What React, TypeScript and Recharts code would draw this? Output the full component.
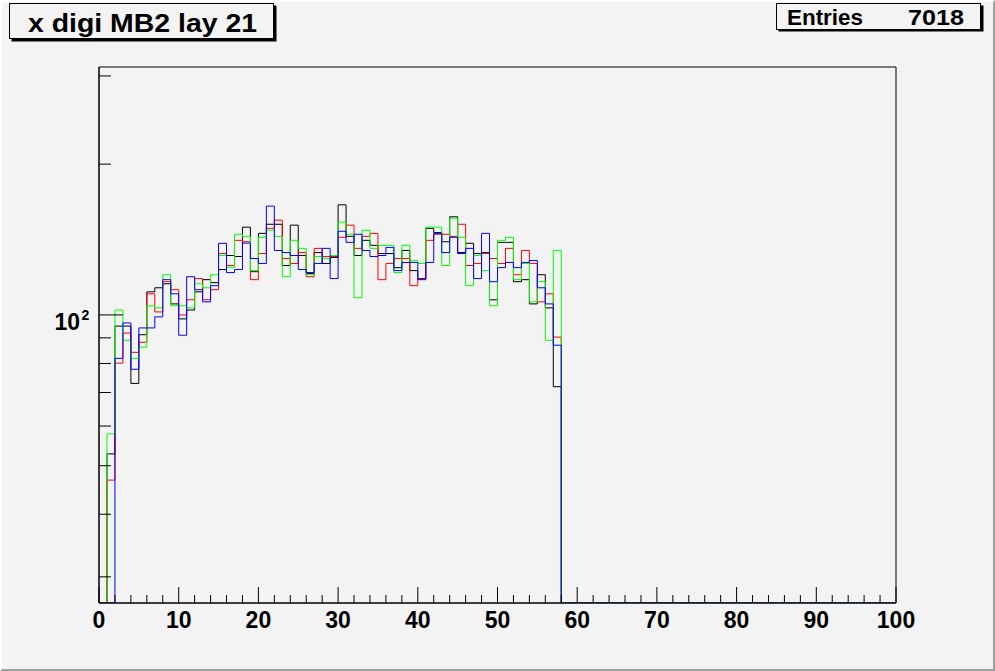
import { ComposedChart, Line, ReferenceArea, XAxis, YAxis } from 'recharts'

// contents of bins 0..57 (bin width 1); bins 58..99 are empty
const blackCounts = [
  0, 52.8, 95, 95, 73, 91.3, 111.2, 113.3, 115.4, 105.2,
  98.2, 102.3, 111.2, 117.6, 116, 123.2, 131.4, 130.8, 149.7, 122,
  145.5, 151.7, 151.7, 125.5, 151.1, 131.4, 121, 133.2, 126.7, 130.2,
  165.9, 143.5, 131.4, 140.9, 137.7, 132.6, 132.6, 124.3, 134.5, 122.6,
  118.2, 148.9, 146, 140, 157, 133.2, 139, 132.6, 133.2, 107.2,
  139.6, 139.6, 116.5, 117.6, 105.2, 120.3, 103.3, 71.9,
]
const redCounts = [
  0, 46.8, 80.1, 92, 84.2, 88.2, 110.2, 101.4, 116.5, 112.3,
  100, 107.2, 118.2, 107.2, 112.3, 132.6, 125.5, 140.9, 140, 117.6,
  132.6, 148.9, 154.6, 129.6, 126.7, 133.2, 119.2, 135.8, 130.8, 130.8,
  142.9, 151.1, 135.8, 143.5, 145.5, 117.6, 126.7, 129.6, 129.6, 114.4,
  118, 140.9, 144.9, 144.9, 143.5, 151.7, 125.5, 126.7, 132.6, 129.6,
  126.7, 135.8, 120.3, 134.5, 126.7, 106.2, 110.2, 90.3,
]
const greenCounts = [
  0, 57.9, 102.3, 89, 81.9, 86.2, 104.3, 103.3, 120.3, 104.3,
  104.3, 103.3, 115.4, 113.3, 120.3, 131.4, 124.3, 144.9, 143.5, 122.6,
  142.9, 147.6, 143.5, 119.2, 140.9, 135.8, 120.3, 130.8, 129.6, 131.4,
  153.2, 144.9, 108.2, 147.6, 135.8, 137.7, 137.7, 121.5, 137.7, 128.4,
  126.7, 149.7, 149.7, 125.5, 156, 142.9, 114.4, 131.4, 122.6, 104.3,
  140.9, 142.9, 117.6, 126.7, 106.2, 116.5, 89, 134.5,
]
const blueCounts = [
  0, 0, 81.9, 96.4, 77.9, 94.2, 94.2, 99.1, 117.6, 110.2,
  91.1, 119.2, 112.3, 106.2, 114.4, 139, 121.5, 123.2, 139.1, 129.6,
  126.7, 164.9, 134.5, 133.2, 131.4, 123.2, 121.5, 126.7, 135.8, 118.2,
  146.9, 139.6, 144.9, 134.5, 130.8, 131.4, 136.4, 122.6, 127.3, 127.3,
  117.6, 127.3, 145.5, 133.2, 142.9, 132.6, 135.8, 118.2, 145.5, 116.5,
  124.3, 127.3, 124.3, 127.3, 128.4, 113.3, 105.2, 87,
]

const xTicks = [0, 2, 4, 6, 8, 10, 12, 14, 16, 18, 20, 22, 24, 26, 28, 30, 32, 34, 36, 38, 40, 42, 44, 46, 48, 50, 52, 54, 56, 58, 60, 62, 64, 66, 68, 70, 72, 74, 76, 78, 80, 82, 84, 86, 88, 90, 92, 94, 96, 98, 100]
const yTicks = [30, 40, 50, 60, 70, 80, 90, 100, 200, 300]

const title = 'x digi MB2 lay 21'
const entries = 7018

const Y_MIN = 26.6
const Y_MAX = 312.6
const NBINS = 100
const BG = '#f3f3f3'
const FONT = "'Liberation Sans', Arial, Helvetica, sans-serif"

// empty bins sit on the bottom of the log axis, like ROOT does
const clamp = (v: number | undefined) => Math.max(v ?? 0, Y_MIN)

const rows = Array.from({ length: NBINS + 1 }, (_, i) => ({
  x: i,
  black: clamp(blackCounts[i]),
  red: clamp(redCounts[i]),
  green: clamp(greenCounts[i]),
  blue: clamp(blueCounts[i]),
}))

const series = [
  { key: 'black', color: '#000000' },
  { key: 'red', color: '#ff0000' },
  { key: 'green', color: '#00ff00' },
  { key: 'blue', color: '#0000ff' },
]

function XTick(props: any) {
  const { x, y, payload } = props
  const v = payload.value as number
  const major = v % 10 === 0
  return (
    <g>
      <line x1={x} x2={x} y1={y} y2={y - (major ? 16 : 8)} stroke="#000" />
      {major && (
        <text x={x} y={y + 25} textAnchor="middle" fontFamily={FONT} fontWeight="bold" fontSize={23} fill="#000">
          {v}
        </text>
      )}
    </g>
  )
}

function YTick(props: any) {
  const { x, y, payload } = props
  const v = payload.value as number
  const decade = v === 100
  return (
    <g>
      <line x1={x} x2={x + (decade ? 24 : 12)} y1={y} y2={y} stroke="#000" />
      {decade && (
        <>
          <text x={x - 19} y={y + 15} textAnchor="end" fontFamily={FONT} fontWeight="bold" fontSize={23} fill="#000">
            10
          </text>
          <text x={x - 17.6} y={y + 5} fontFamily={FONT} fontWeight="bold" fontSize={14} fill="#000">
            2
          </text>
        </>
      )}
    </g>
  )
}

export default function App() {
  return (
    <div style={{ position: 'absolute', left: 0, top: 0, width: 995, height: 671, background: BG, overflow: 'hidden' }}>
      <div
        style={{
          position: 'absolute', inset: 0, boxSizing: 'border-box',
          borderTop: '2px solid #ffffff', borderLeft: '2px solid #ffffff',
          borderRight: '2px solid #a0a0a0', borderBottom: '2px solid #a0a0a0',
        }}
      />
      <div style={{ position: 'absolute', left: 0, top: 0 }}>
        <ComposedChart width={995} height={671} data={rows} margin={{ top: 67, right: 99, bottom: 0, left: 0 }}>
          <XAxis
            dataKey="x" type="number" domain={[0, 100]} ticks={xTicks} interval={0}
            height={68} tickSize={0} tickMargin={0} tickLine={false}
            axisLine={{ stroke: '#000' }} tick={<XTick />}
          />
          <YAxis
            type="number" scale="log" domain={[Y_MIN, Y_MAX]} allowDataOverflow ticks={yTicks} interval={0}
            width={99} tickSize={0} tickMargin={0} tickLine={false}
            axisLine={{ stroke: '#000' }} tick={<YTick />}
          />
          <ReferenceArea x1={0} x2={100} y1={Y_MIN} y2={Y_MAX} fill="none" stroke="#000" strokeWidth={1} />
          {series.map((s) => (
            <Line
              key={s.key} dataKey={s.key} type="stepAfter" stroke={s.color} strokeWidth={1}
              dot={false} activeDot={false} isAnimationActive={false}
            />
          ))}
        </ComposedChart>
      </div>
      <svg width={995} height={671} style={{ position: 'absolute', left: 0, top: 0, pointerEvents: 'none' }}>
        <rect x={11.5} y={5.5} width={265} height={36} fill="#000" />
        <rect x={9.5} y={3.5} width={264} height={35} fill={BG} stroke="#000" />
        <text x={28} y={32} textLength={229} lengthAdjust="spacingAndGlyphs" fontFamily={FONT} fontWeight="bold" fontSize={26} fill="#000">
          {title}
        </text>
        <rect x={778.5} y={5.5} width={205} height={26} fill="#000" />
        <rect x={776.5} y={3.5} width={204} height={26} fill={BG} stroke="#000" />
        <text x={787} y={25} textLength={76} lengthAdjust="spacingAndGlyphs" fontFamily={FONT} fontWeight="bold" fontSize={22} fill="#000">
          Entries
        </text>
        <text x={908} y={25} textLength={56} lengthAdjust="spacingAndGlyphs" fontFamily={FONT} fontWeight="bold" fontSize={22} fill="#000">
          {entries}
        </text>
      </svg>
    </div>
  )
}
